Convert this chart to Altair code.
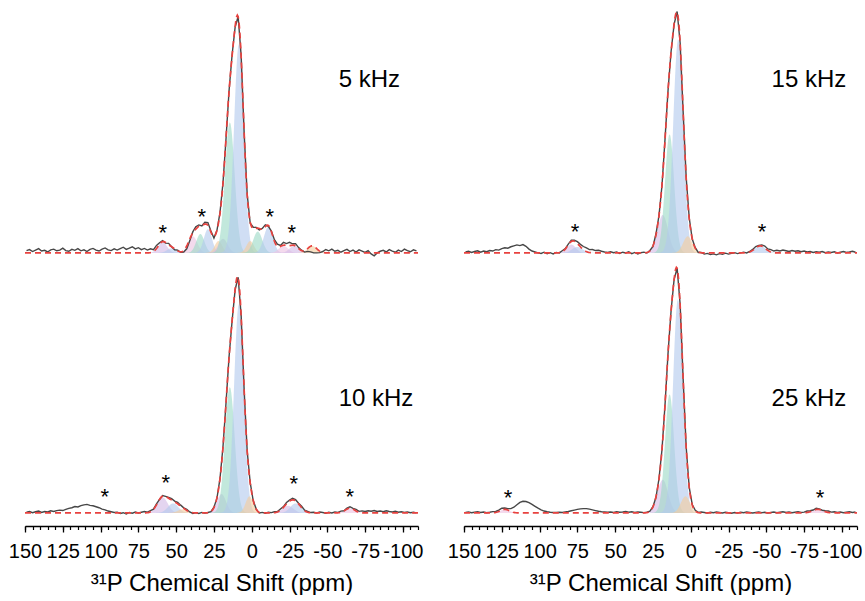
import numpy as np
import pandas as pd
import altair as alt

FONT = "Liberation Sans"
PPM_HI, PPM_LO = 150, -110
Y_LO, Y_HI = -0.055, 1.01
PANEL_W, PANEL_H = 393, 253

MAJOR_TICKS = [150, 125, 100, 75, 50, 25, 0, -25, -50, -75, -100]
MINOR_TICKS = list(range(150, -111, -5))

COLORS = {
    "lav": "#d3bce6",
    "pink": "#eec4e2",
    "blue": "#b3caee",
    "green": "#9cdac6",
    "orange": "#f3cd9e",
}

# Gaussian deconvolution components: centre (ppm), height (norm.), sigma (ppm), colour key
# --- 5 kHz MAS
k5_centre = [59, 53, 39, 34, 29, 22, 19, 14.5, 8.5, 1, -4, -11, -21, -28, -40]
k5_height = [0.045, 0.02, 0.07, 0.08, 0.10, 0.05, 0.06, 0.55, 0.88, 0.05, 0.09, 0.11, 0.03, 0.03, 0.03]
k5_sigma = [3, 3, 3, 2.7, 2.7, 2.5, 3, 3.2, 3.2, 2.5, 3, 3, 3, 3, 3]
k5_kind = ["lav", "blue", "pink", "green", "blue", "orange", "lav", "green", "blue",
           "orange", "green", "blue", "pink", "lav", "orange"]

# --- 15 kHz MAS
k15_centre = [79, 75, 18.5, 14, 8.3, 2, -46]
k15_height = [0.035, 0.025, 0.16, 0.5, 0.90, 0.07, 0.03]
k15_sigma = [3, 3.5, 3.5, 3, 3.3, 3, 3.5]
k15_kind = ["lav", "blue", "lav", "green", "blue", "orange", "blue"]

# --- 10 kHz MAS
k10_centre = [59, 52, 46, -24, -29, -65, 20, 14.5, 8.5, 1.5]
k10_height = [0.065, 0.04, 0.015, 0.03, 0.04, 0.02, 0.08, 0.53, 0.88, 0.07]
k10_sigma = [3.5, 3.5, 3, 3.5, 3.5, 3, 3, 3.2, 3.2, 2.5]
k10_kind = ["lav", "blue", "orange", "lav", "blue", "pink", "lav", "green", "blue", "orange"]

# --- 25 kHz MAS
k25_centre = [123, 18.5, 14, 8.5, 3.5, -84]
k25_height = [0.015, 0.14, 0.5, 0.9, 0.07, 0.015]
k25_sigma = [3, 3.5, 3, 3.2, 3, 3.5]
k25_kind = ["pink", "lav", "green", "blue", "orange", "pink"]

# Observed minus fit, sampled every 2 ppm from 149 down to -109 ppm
res_5k = [
    0.010, 0.014, 0.006, 0.012, 0.018, 0.008, 0.011, 0.004, 0.013, 0.016, 0.009, 0.012, 0.020, 0.010, 0.007, 0.015,
    0.011, 0.018, 0.009, 0.013, 0.006, 0.015, 0.019, 0.012, 0.008, 0.016, 0.021, 0.013, 0.010, 0.017, 0.012,
    0.018, 0.024, 0.015, 0.020, 0.026, 0.017, 0.022, 0.014, 0.019, 0.012, 0.016, 0.008, 0.013, 0.006,
    0.004, -0.003, 0.006, 0.000, -0.004, 0.003, -0.002, -0.006, -0.012, -0.008,
    0.004, 0.010, 0.006, -0.004, 0.008, 0.012, 0.005, -0.006, 0.000, 0.004,
    0.003, -0.004, 0.002, 0.005, -0.003, 0.000, 0.004, -0.002, 0.003, -0.004, 0.006,
    0.004, -0.006, 0.003, 0.008, -0.004, 0.002, 0.006, 0.010, 0.004, 0.012,
    0.008, 0.014, 0.006, 0.010, 0.004, 0.002, -0.006, -0.012, -0.024, -0.028,
    -0.018, -0.006, 0.004, 0.014, 0.009, 0.016, 0.007, 0.011, 0.003, 0.010, 0.015, 0.006, 0.012, 0.004,
    0.013, 0.008, 0.002, 0.010, -0.004, -0.012, 0.000, 0.007, 0.011, 0.004, 0.014, 0.008, 0.003, 0.012,
    0.006, 0.016, 0.010, 0.005, 0.013, 0.009,
]
res_15k = [
    0.004, 0.007, 0.002, 0.006, 0.009, 0.003, 0.008, 0.005,
    0.010, 0.008, 0.014, 0.012, 0.018, 0.022, 0.020, 0.026, 0.030, 0.034, 0.031, 0.035, 0.028, 0.016, 0.008,
    0.004, 0.000, -0.002, 0.003, -0.003, 0.001, -0.004, 0.002, -0.001, 0.004, 0.002,
    0.003, 0.006, 0.004, 0.008, 0.010, 0.013, 0.015, 0.012, 0.014, 0.010, 0.011, 0.007, 0.004, 0.002,
    0.005, 0.001, 0.004, -0.002, 0.003, 0.000, 0.005, -0.003, 0.002, -0.004, 0.001, 0.003, -0.002,
    0.002, -0.002, 0.004, 0.000, -0.003, 0.003, 0.000, 0.002, -0.002, 0.003, 0.000, -0.003, 0.002, 0.004, -0.001,
    0.002, -0.003, 0.001, -0.005, -0.002, -0.007, -0.004, -0.008, -0.003, -0.006, -0.001, -0.005, -0.002, 0.001, -0.003,
    0.000, 0.003, -0.001, 0.002, 0.004, 0.006, 0.003, 0.005, 0.008, 0.006,
    0.010, 0.007, 0.011, 0.008, 0.012, 0.009, 0.006, 0.010, 0.007, 0.009, 0.005, 0.008, 0.004, 0.006, 0.002,
    0.005, 0.003, 0.006, 0.001, 0.004, 0.002, 0.005, 0.000, 0.003, 0.006, 0.002, 0.004, 0.007, 0.003,
]
res_10k = [
    0.003, 0.006, 0.001, 0.005, 0.008, 0.002, 0.006, 0.004, 0.009, 0.006, 0.010,
    0.012, 0.010, 0.015, 0.019, 0.022, 0.027, 0.025, 0.031, 0.034, 0.036, 0.032, 0.030, 0.026, 0.022, 0.016,
    0.013, 0.008, 0.005, 0.002,
    0.003, -0.002, 0.001, -0.004, 0.002, -0.001, 0.004, 0.000, 0.003, 0.006, 0.002, 0.005, 0.001, 0.004, 0.000,
    0.003, 0.000, 0.004, 0.006, 0.003, 0.007, 0.004, 0.002, 0.005, 0.000, -0.003, 0.001, -0.002, 0.002, -0.001, 0.001,
    0.000, 0.002, -0.002, 0.001, 0.003, -0.001, 0.002, 0.000, -0.002, 0.001, 0.003, -0.001, 0.000, 0.002, -0.002,
    0.001, -0.003, 0.002, -0.001, 0.003, 0.001, 0.004, 0.002, 0.005, 0.003, 0.006, 0.004, 0.007, 0.005, 0.003,
    0.006, 0.002, 0.004, 0.001, 0.003,
    0.000, 0.004, 0.002, -0.001, 0.003, 0.000, 0.004, 0.002, 0.005, 0.001, 0.004, 0.006, 0.003, 0.007, 0.004,
    0.008, 0.006, 0.009, 0.007, 0.010, 0.006, 0.008, 0.005, 0.009, 0.006, 0.004, 0.007, 0.003, 0.005, 0.002,
    0.004, 0.001, 0.003, 0.000,
]
res_25k = [
    0.002, 0.004, 0.001, 0.003, 0.005, 0.002, 0.004, 0.001, 0.003, 0.005, 0.004,
    0.006, 0.008, 0.006, 0.006, 0.012, 0.022, 0.034, 0.044, 0.049, 0.048, 0.043, 0.036, 0.028, 0.020, 0.013,
    0.008, 0.005, 0.003, 0.002,
    0.002, 0.003, 0.002, 0.004, 0.006, 0.009, 0.012, 0.015, 0.017, 0.018, 0.018, 0.016, 0.013, 0.010, 0.007,
    0.005, 0.004, 0.003,
    0.004, 0.002, 0.005, 0.003, 0.004, 0.006, 0.003, 0.005, 0.002, 0.004, 0.003, 0.001, 0.002,
    0.000, 0.001, -0.001, 0.002, 0.000, -0.002, 0.001, 0.002, -0.001, 0.000, 0.002, -0.001, 0.001, 0.000, 0.002,
    0.003, 0.001, 0.004, 0.002, 0.000, 0.003, 0.001, 0.004, 0.002, 0.000, 0.003, 0.001, -0.001, 0.002, 0.000,
    0.003, 0.001, 0.004, 0.002, 0.000,
    0.002, 0.004, 0.001, 0.003, 0.000, 0.002, 0.004, 0.001, 0.003, 0.005, 0.002, 0.004, 0.001, 0.003, 0.005,
    0.002, 0.003, 0.006, 0.004, 0.002, 0.005, 0.003, 0.001, 0.004, 0.006, 0.003, 0.005, 0.002, 0.004, 0.001,
    0.003, 0.005, 0.002, 0.004,
]

# Spinning-sideband markers (ppm, intensity at the asterisk centre)
star5_ppm, star5_int = [58.9, 33.1, -11.9, -26.5], [0.103, 0.171, 0.171, 0.103]
star15_ppm, star15_int = [76.6, -47.2], [0.11, 0.11]
star10_ppm, star10_int = [97.2, 56.9, -27.8, -64.8], [0.087, 0.146, 0.141, 0.087]
star25_ppm, star25_int = [120.9, -85.5], [0.082, 0.082]

# Spinning-rate labels (left edge ppm, baseline intensity)
rate_labels = ["5 kHz", "15 kHz", "10 kHz", "25 kHz"]
rate_ppm = [-57.5, -53.5, -57.5, -53.5]
rate_int = [0.70, 0.70, 0.45, 0.45]


def gauss(x, c, h, s):
    return h * np.exp(-0.5 * ((x - c) / s) ** 2)


def spectrum_panel(centres, heights, sigmas, kinds, resid, s_ppm, s_int,
                   label, label_ppm, label_int, with_axis):
    fine = np.round(np.arange(PPM_HI, PPM_LO - 0.01, -0.5), 2)
    coarse = np.round(np.arange(PPM_HI - 1, PPM_LO + 0.99, -2.0), 2)
    assert len(coarse) == len(resid), (len(coarse), len(resid))

    frames = []
    fit_fine = np.zeros_like(fine)
    fit_coarse = np.zeros_like(coarse)
    for i, (c, h, s, k) in enumerate(zip(centres, heights, sigmas, kinds)):
        g = gauss(fine, c, h, s)
        fit_fine += g
        fit_coarse += gauss(coarse, c, h, s)
        keep = g > 1e-4
        frames.append(pd.DataFrame({"ppm": fine[keep], "val": g[keep], "comp": f"c{i}", "kind": k}))
    comps = pd.concat(frames, ignore_index=True)
    fit = pd.DataFrame({"ppm": fine, "val": fit_fine})
    obs = pd.DataFrame({"ppm": coarse, "val": fit_coarse + np.array(resid)})
    stars = pd.DataFrame({"ppm": s_ppm, "val": s_int, "t": ["*"] * len(s_ppm)})
    lab = pd.DataFrame({"ppm": [label_ppm], "val": [label_int], "t": [label]})

    xs = alt.Scale(domain=[PPM_HI, PPM_LO], nice=False, zero=False)
    ys = alt.Scale(domain=[Y_LO, Y_HI], nice=False, zero=False)
    y_enc = alt.Y("val:Q", scale=ys, axis=None, stack=None)
    x_plain = alt.X("ppm:Q", scale=xs, axis=None)

    if with_axis:
        x_major = alt.X("ppm:Q", scale=xs, axis=alt.Axis(
            values=MAJOR_TICKS, labelExpr="datum.value + ''", orient="bottom",
            labelFont=FONT, labelFontSize=20, labelColor="black", labelPadding=9,
            labelFlush=False, labelOverlap=False,
            tickSize=6, tickWidth=1.3, tickColor="black",
            domainColor="black", domainWidth=1.3, grid=False,
            title="³¹P Chemical Shift (ppm)", titleFont=FONT, titleFontSize=24,
            titleFontWeight="normal", titleColor="black", titlePadding=10))
        x_minor = alt.X("ppm:Q", scale=xs, axis=alt.Axis(
            values=MINOR_TICKS, labels=False, domain=False, orient="bottom",
            tickSize=3.5, tickWidth=1.2, tickColor="black", grid=False, title=None))
    else:
        x_major = x_plain
        x_minor = x_plain

    areas = alt.Chart(comps).mark_area(opacity=0.62, interpolate="linear").encode(
        x=x_plain,
        y=y_enc,
        color=alt.Color("kind:N", scale=alt.Scale(domain=list(COLORS), range=list(COLORS.values())), legend=None),
        detail="comp:N",
    )
    obs_line = alt.Chart(obs).mark_line(color="#474747", strokeWidth=1.4).encode(x=x_minor, y=y_enc)
    fit_line = alt.Chart(fit).mark_line(color="#e8423f", strokeWidth=1.7, strokeDash=[6, 4]).encode(
        x=x_major, y=y_enc)
    star_text = alt.Chart(stars).mark_text(
        font=FONT, fontSize=22, color="black", baseline="alphabetic", dy=12).encode(
        x=x_plain, y=y_enc, text="t:N")
    label_text = alt.Chart(lab).mark_text(
        font=FONT, fontSize=24, color="black", align="left", baseline="alphabetic").encode(
        x=x_plain, y=y_enc, text="t:N")

    layer = alt.layer(areas, obs_line, fit_line, star_text, label_text).properties(
        width=PANEL_W, height=PANEL_H)
    if with_axis:
        layer = layer.resolve_axis(x="independent")
    return layer


p5 = spectrum_panel(k5_centre, k5_height, k5_sigma, k5_kind, res_5k, star5_ppm, star5_int,
                    rate_labels[0], rate_ppm[0], rate_int[0], False)
p15 = spectrum_panel(k15_centre, k15_height, k15_sigma, k15_kind, res_15k, star15_ppm, star15_int,
                     rate_labels[1], rate_ppm[1], rate_int[1], False)
p10 = spectrum_panel(k10_centre, k10_height, k10_sigma, k10_kind, res_10k, star10_ppm, star10_int,
                     rate_labels[2], rate_ppm[2], rate_int[2], True)
p25 = spectrum_panel(k25_centre, k25_height, k25_sigma, k25_kind, res_25k, star25_ppm, star25_int,
                     rate_labels[3], rate_ppm[3], rate_int[3], True)

chart = alt.concat(
    p5, p15, p10, p25, columns=2, spacing={"row": 7, "column": 46}, bounds="flush"
).properties(
    padding={"left": 8, "top": 8, "right": 0, "bottom": 0}
).configure_view(stroke=None)

chart.save("out.html", embed_options={"renderer": "svg", "actions": False})
